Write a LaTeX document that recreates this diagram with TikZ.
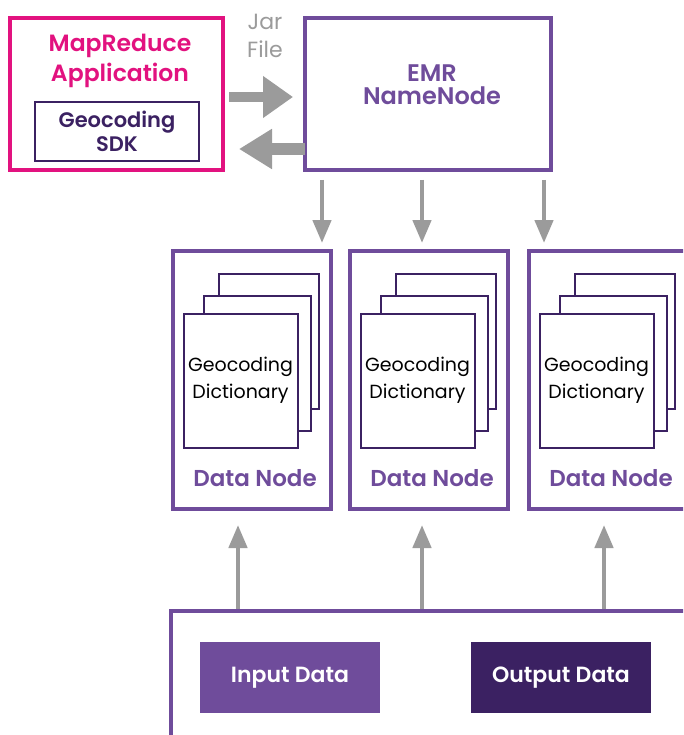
\documentclass[tikz,border=0pt]{standalone}
\usepackage{fontspec}
\setmainfont{Poppins}[BoldFont={Poppins SemiBold}]
\usetikzlibrary{arrows.meta,calc}

\definecolor{appPink}{HTML}{E2127F}
\definecolor{emrPurple}{HTML}{6F4C9B}
\definecolor{deepPurple}{HTML}{3B2162}
\definecolor{arrowGray}{HTML}{9B9B9B}

\newcommand{\fs}[2]{\fontsize{#1}{#2}\selectfont}

\begin{document}
\begin{tikzpicture}[x=1pt,y=-1pt,
  box/.style={draw, line width=4pt, fill=white, inner sep=0pt, outer sep=0pt},
  appbox/.style={box, draw=appPink},
  purplebox/.style={box, draw=emrPurple},
  sdkbox/.style={draw=deepPurple, line width=2pt, inner sep=0pt, outer sep=0pt},
  page/.style={draw=deepPurple, line width=2pt, fill=white, inner sep=0pt, outer sep=0pt},
  datafill/.style={inner sep=0pt, outer sep=0pt, minimum width=180pt, minimum height=71pt,
    text=white, font=\fs{22}{26}\bfseries},
  bigarrow/.style={draw=arrowGray, line width=10pt, -{Triangle[length=30pt,width=40pt]}, arrowGray},
  backarrow/.style={draw=arrowGray, line width=12pt, -{Triangle[length=33pt,width=38pt]}, arrowGray},
  thinarrow/.style={draw=arrowGray, line width=4.5pt, -{Triangle[length=23pt,width=18pt]}, arrowGray},
  dnlabel/.style={text=emrPurple, font=\fs{23}{27}\bfseries},
]
\clip (0,0) rectangle (683,735);
\fill[white] (0,0) rectangle (683,735);

% MapReduce application with the SDK inside
\node[appbox, minimum width=213pt, minimum height=152pt] (app) at (116.5,94) {};
\node[text=appPink, font=\fs{23.5}{30}\bfseries, align=center] (apptext) at (120,61)
  {MapReduce\\Application};
\node[sdkbox, minimum width=164pt, minimum height=59pt, text=deepPurple,
  font=\fs{21}{24}\bfseries, align=center] (sdk) at (117,131.5) {Geocoding\\SDK};

% EMR name node
\node[purplebox, minimum width=246pt, minimum height=152pt] (nn) at (428,94) {};
\node[text=emrPurple, font=\fs{24}{23}\bfseries, align=center] (nntext) at (432,85)
  {EMR\\NameNode};

% Jar file label
\node[text=arrowGray, font=\fs{22}{28}, align=center] (jar) at (265,36) {Jar\\File};

% Jar file goes in, results come back
\draw[bigarrow] ($(app.east)+(6,3)$) -- ($(nn.west)+(-12,3)$);
\draw[backarrow] ($(nn.west)+(0,55)$) -- ($(app.east)+(16,55)$);

% Data nodes with stacked dictionary pages
\foreach \i/\cx in {1/251.5, 2/428.5, 3/607.5} {
  \node[purplebox, minimum width=158pt, minimum height=258pt] (dn\i) at (\cx,379.5) {};
  \coordinate (o\i) at ($(dn\i.north west)+(-2,-2)$);
  \node[page, minimum width=100pt, minimum height=135pt] (pc\i) at ($(o\i)+(98,342.5-250)$) {};
  \node[page, minimum width=107pt, minimum height=135pt] (pb\i) at ($(o\i)+(86.5,364.5-250)$) {};
  \node[page, minimum width=114pt, minimum height=134pt, font=\fs{19}{27}, align=center]
    (pa\i) at ($(o\i)+(70,382-250)$) {Geocoding\\Dictionary};
  \node[dnlabel] (dl\i) at ($(o\i)+(84.5,480-250)$) {Data Node};
}

% Storage layer
\node[purplebox, minimum width=560pt, minimum height=180pt] (hdfs) at (451,700.5) {};
\node[datafill, fill=emrPurple] (input) at (290,677.5) {Input Data};
\node[datafill, fill=deepPurple] (output) at (561,677.5) {Output Data};

% Name node to data nodes
\coordinate (d1) at (322,180);
\coordinate (d2) at (422,180);
\coordinate (d3) at (544,180);
\draw[thinarrow, shorten >=7.5pt] (d1) -- (d1 |- dn1.north);
\draw[thinarrow, shorten >=7.5pt] (d2) -- (d2 |- dn2.north);
\draw[thinarrow, shorten >=7.5pt] (d3) -- (d3 |- dn3.north);

% Storage to data nodes
\coordinate (u1) at (238,0);
\coordinate (u2) at (422,0);
\coordinate (u3) at (604,0);
\draw[thinarrow, shorten <=2pt, shorten >=16.5pt] (u1 |- hdfs.north) -- (u1 |- dn1.south);
\draw[thinarrow, shorten <=2pt, shorten >=16.5pt] (u2 |- hdfs.north) -- (u2 |- dn2.south);
\draw[thinarrow, shorten <=2pt, shorten >=16.5pt] (u3 |- hdfs.north) -- (u3 |- dn3.south);
\end{tikzpicture}
\end{document}
